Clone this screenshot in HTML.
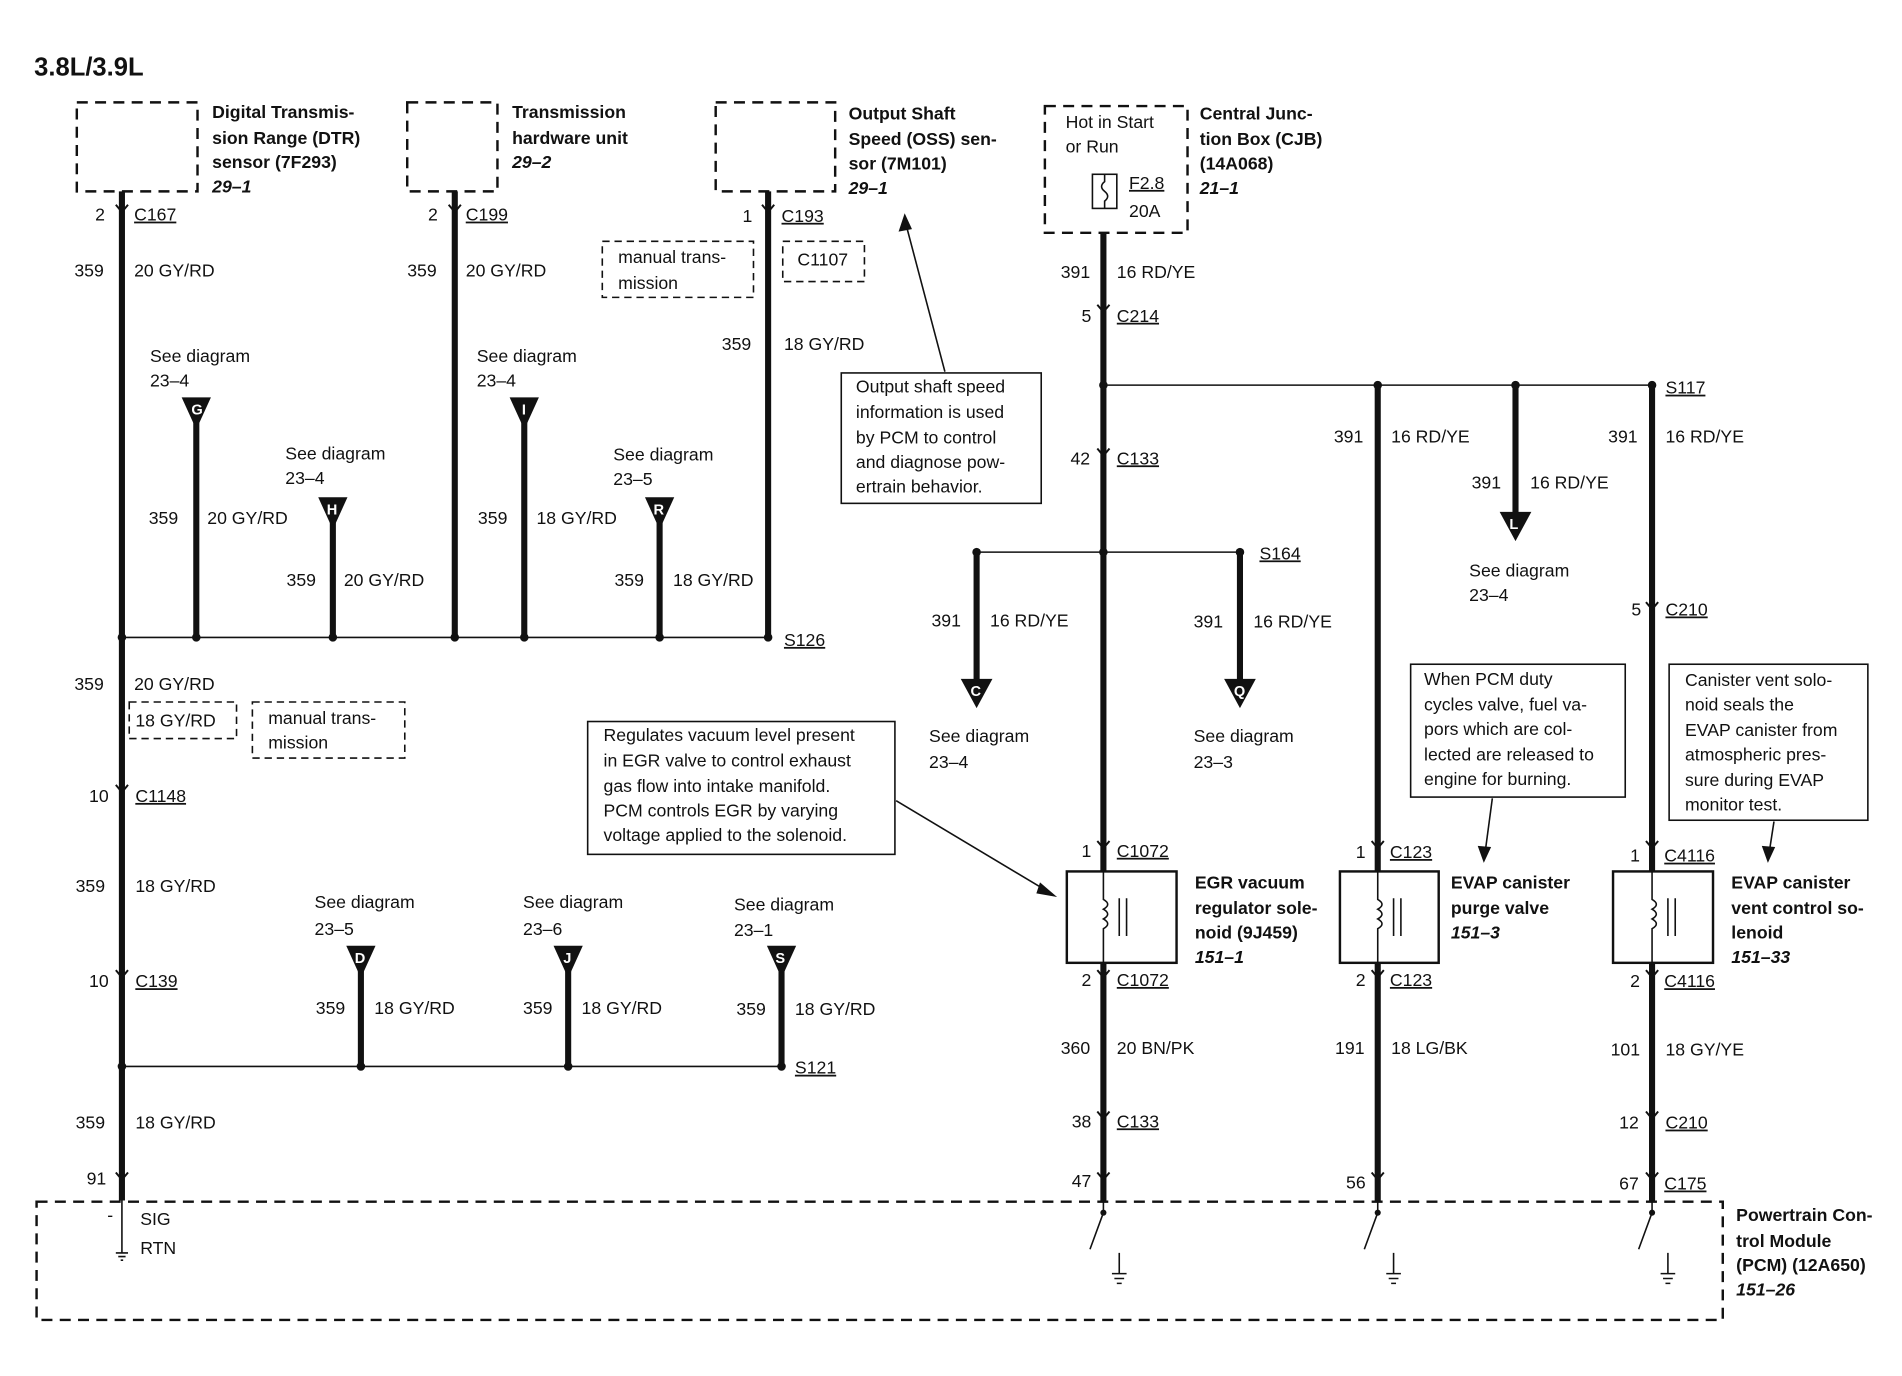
<!DOCTYPE html>
<html><head><meta charset="utf-8"><style>
html,body{margin:0;padding:0;background:#fff;}
svg{display:block;}
text{font-family:"Liberation Sans",sans-serif;font-size:14.5px;fill:#111;}
.b{font-weight:bold;}
.i{font-style:italic;font-weight:bold;}
.w{stroke:#111;stroke-width:5;fill:none;}
.t{stroke:#111;stroke-width:1.3;fill:none;}
.d{stroke:#111;stroke-width:2;fill:none;stroke-dasharray:9,6;}
.dt{stroke:#111;stroke-width:1.3;fill:none;stroke-dasharray:6,4;}
.u{text-decoration:underline;}
</style></head><body>
<svg width="1902" height="1376" viewBox="0 0 1560 1129" preserveAspectRatio="none" xmlns="http://www.w3.org/2000/svg">
<defs>
<g id="tri"><polygon points="-12,0 12,0 2,22 -2,22" fill="#111"/></g>
<g id="big"><polygon points="-13,0 13,0 0,24" fill="#111"/></g>
<g id="sp"><circle r="3.5" fill="#111"/></g>
</defs>
<text x="28" y="62" class="b" style="font-size:21px">3.8L/3.9L</text>

<!-- top dashed boxes -->
<rect x="63" y="84" width="99" height="73" class="d"/>
<rect x="334" y="84" width="74" height="73" class="d"/>
<rect x="587" y="84" width="98" height="73" class="d"/>
<rect x="857" y="87" width="117" height="104" class="d"/>
<text x="174" y="97" class="b">Digital Transmis-</text>
<text x="174" y="118" class="b">sion Range (DTR)</text>
<text x="174" y="138" class="b">sensor (7F293)</text>
<text x="174" y="158" class="i">29–1</text>
<text x="420" y="97" class="b">Transmission</text>
<text x="420" y="118" class="b">hardware unit</text>
<text x="420" y="138" class="i">29–2</text>
<text x="696" y="98" class="b">Output Shaft</text>
<text x="696" y="119" class="b">Speed (OSS) sen-</text>
<text x="696" y="139" class="b">sor (7M101)</text>
<text x="696" y="159" class="i">29–1</text>
<text x="874" y="105">Hot in Start</text>
<text x="874" y="125">or Run</text>
<rect x="896" y="143" width="20" height="28" class="t"/>
<path d="M906,143 v6 q-5,4 0,8 q5,4 0,8 v6" class="t"/>
<text x="926" y="155" class="u">F2.8</text>
<text x="926" y="178">20A</text>
<text x="984" y="98" class="b">Central Junc-</text>
<text x="984" y="119" class="b">tion Box (CJB)</text>
<text x="984" y="139" class="b">(14A068)</text>
<text x="984" y="159" class="i">21–1</text>

<!-- left group -->
<path d="M100,157 V985" class="w"/>
<path d="M373,157 V523" class="w"/>
<path d="M630,157 V523" class="w"/>
<path d="M161,340 V523 M273,425 V523 M430,340 V523 M541,425 V523" class="w"/>
<path d="M100,523 H630" class="t"/>
<use href="#sp" x="100" y="523"/><use href="#sp" x="161" y="523"/><use href="#sp" x="273" y="523"/><use href="#sp" x="373" y="523"/><use href="#sp" x="430" y="523"/><use href="#sp" x="541" y="523"/><use href="#sp" x="630" y="523"/>
<use href="#tri" x="161" y="326"/><text x="157" y="340" style="fill:#fff;font-size:12px" class="b">G</text>
<use href="#tri" x="273" y="408"/><text x="268" y="422" style="fill:#fff;font-size:12px" class="b">H</text>
<use href="#tri" x="430" y="326"/><text x="428" y="340" style="fill:#fff;font-size:12px" class="b">I</text>
<use href="#tri" x="541" y="408"/><text x="536" y="422" style="fill:#fff;font-size:12px" class="b">R</text>

<text x="78" y="181">2</text><text x="110" y="181" class="u">C167</text>
<text x="61" y="227">359</text><text x="110" y="227">20 GY/RD</text>
<text x="351" y="181">2</text><text x="382" y="181" class="u">C199</text>
<text x="334" y="227">359</text><text x="382" y="227">20 GY/RD</text>
<text x="609" y="182">1</text><text x="641" y="182" class="u">C193</text>
<rect x="494" y="198" width="124" height="46" class="dt"/>
<text x="507" y="216">manual trans-</text><text x="507" y="237">mission</text>
<rect x="642" y="198" width="67" height="33" class="dt"/>
<text x="654" y="218">C1107</text>
<text x="592" y="287">359</text><text x="643" y="287">18 GY/RD</text>
<text x="123" y="297">See diagram</text><text x="123" y="317">23–4</text>
<text x="391" y="297">See diagram</text><text x="391" y="317">23–4</text>
<text x="234" y="377">See diagram</text><text x="234" y="397">23–4</text>
<text x="503" y="378">See diagram</text><text x="503" y="398">23–5</text>
<text x="122" y="430">359</text><text x="170" y="430">20 GY/RD</text>
<text x="392" y="430">359</text><text x="440" y="430">18 GY/RD</text>
<text x="235" y="481">359</text><text x="282" y="481">20 GY/RD</text>
<text x="504" y="481">359</text><text x="552" y="481">18 GY/RD</text>
<text x="643" y="530" class="u">S126</text>

<rect x="690" y="306" width="164" height="107" class="t" style="fill:#fff"/>
<text x="702" y="322">Output shaft speed</text>
<text x="702" y="343">information is used</text>
<text x="702" y="364">by PCM to control</text>
<text x="702" y="384">and diagnose pow-</text>
<text x="702" y="404">ertrain behavior.</text>
<path d="M775,305 L742,180" class="t"/><polygon points="742,175 737,190 748,188" fill="#111"/>

<text x="61" y="566">359</text><text x="110" y="566">20 GY/RD</text>
<rect x="106" y="576" width="88" height="30" class="dt"/>
<text x="111" y="596">18 GY/RD</text>
<rect x="207" y="576" width="125" height="46" class="dt"/>
<text x="220" y="594">manual trans-</text><text x="220" y="614">mission</text>
<text x="73" y="658">10</text><text x="111" y="658" class="u">C1148</text>
<text x="62" y="732">359</text><text x="111" y="732">18 GY/RD</text>
<text x="73" y="810">10</text><text x="111" y="810" class="u">C139</text>
<text x="62" y="926">359</text><text x="111" y="926">18 GY/RD</text>
<text x="71" y="972">91</text>

<rect x="482" y="592" width="252" height="109" class="t"/>
<text x="495" y="608">Regulates vacuum level present</text>
<text x="495" y="629">in EGR valve to control exhaust</text>
<text x="495" y="650">gas flow into intake manifold.</text>
<text x="495" y="670">PCM controls EGR by varying</text>
<text x="495" y="690">voltage applied to the solenoid.</text>
<path d="M735,657 L862,733" class="t"/><polygon points="867,736 853,724 850,733" fill="#111"/>

<!-- lower branches -->
<path d="M296,790 V875 M466,790 V875 M641,790 V875" class="w"/>
<path d="M100,875 H641" class="t"/>
<use href="#sp" x="100" y="875"/><use href="#sp" x="296" y="875"/><use href="#sp" x="466" y="875"/><use href="#sp" x="641" y="875"/>
<use href="#tri" x="296" y="776"/><text x="291" y="790" style="fill:#fff;font-size:12px" class="b">D</text>
<use href="#tri" x="466" y="776"/><text x="462" y="790" style="fill:#fff;font-size:12px" class="b">J</text>
<use href="#tri" x="641" y="776"/><text x="636" y="790" style="fill:#fff;font-size:12px" class="b">S</text>
<text x="258" y="745">See diagram</text><text x="258" y="767">23–5</text>
<text x="429" y="745">See diagram</text><text x="429" y="767">23–6</text>
<text x="602" y="747">See diagram</text><text x="602" y="768">23–1</text>
<text x="259" y="832">359</text><text x="307" y="832">18 GY/RD</text>
<text x="429" y="832">359</text><text x="477" y="832">18 GY/RD</text>
<text x="604" y="833">359</text><text x="652" y="833">18 GY/RD</text>
<text x="652" y="881" class="u">S121</text>

<!-- right group -->
<path d="M905,191 V715 M905,790 V985" class="w"/>
<path d="M1130,316 V715 M1130,790 V985" class="w"/>
<path d="M1355,316 V715 M1355,790 V985" class="w"/>
<path d="M1243,316 V425" class="w"/>
<path d="M801,453 V560 M1017,453 V560" class="w"/>
<path d="M905,316 H1355 M801,453 H1017" class="t"/>
<use href="#sp" x="905" y="316"/><use href="#sp" x="1130" y="316"/><use href="#sp" x="1243" y="316"/><use href="#sp" x="1355" y="316"/>
<use href="#sp" x="801" y="453"/><use href="#sp" x="905" y="453"/><use href="#sp" x="1017" y="453"/>
<use href="#big" x="1243" y="420"/><text x="1238" y="434" style="fill:#fff;font-size:12px" class="b">L</text>
<use href="#big" x="801" y="557"/><text x="796" y="571" style="fill:#fff;font-size:12px" class="b">C</text>
<use href="#big" x="1017" y="557"/><text x="1012" y="571" style="fill:#fff;font-size:12px" class="b">Q</text>

<text x="870" y="228">391</text><text x="916" y="228">16 RD/YE</text>
<text x="887" y="264">5</text><text x="916" y="264" class="u">C214</text>
<text x="1366" y="323" class="u">S117</text>
<text x="878" y="381">42</text><text x="916" y="381" class="u">C133</text>
<text x="1094" y="363">391</text><text x="1141" y="363">16 RD/YE</text>
<text x="1319" y="363">391</text><text x="1366" y="363">16 RD/YE</text>
<text x="1207" y="401">391</text><text x="1255" y="401">16 RD/YE</text>
<text x="1033" y="459" class="u">S164</text>
<text x="1205" y="473">See diagram</text><text x="1205" y="493">23–4</text>
<text x="1338" y="505">5</text><text x="1366" y="505" class="u">C210</text>
<text x="764" y="514">391</text><text x="812" y="514">16 RD/YE</text>
<text x="979" y="515">391</text><text x="1028" y="515">16 RD/YE</text>
<text x="762" y="609">See diagram</text><text x="762" y="630">23–4</text>
<text x="979" y="609">See diagram</text><text x="979" y="630">23–3</text>

<rect x="1157" y="545" width="176" height="109" class="t"/>
<text x="1168" y="562">When PCM duty</text>
<text x="1168" y="583">cycles valve, fuel va-</text>
<text x="1168" y="603">pors which are col-</text>
<text x="1168" y="624">lected are released to</text>
<text x="1168" y="644">engine for burning.</text>
<path d="M1224,655 L1218,700" class="t"/><polygon points="1217,708 1212,694 1223,695" fill="#111"/>
<rect x="1369" y="545" width="163" height="128" class="t"/>
<text x="1382" y="563">Canister vent solo-</text>
<text x="1382" y="583">noid seals the</text>
<text x="1382" y="604">EVAP canister from</text>
<text x="1382" y="624">atmospheric pres-</text>
<text x="1382" y="645">sure during EVAP</text>
<text x="1382" y="665">monitor test.</text>
<path d="M1455,674 L1451,700" class="t"/><polygon points="1450,708 1445,694 1456,695" fill="#111"/>

<!-- solenoids -->
<g>
<rect x="875" y="715" width="90" height="75" class="t" style="stroke-width:2"/>
<rect x="1099" y="715" width="81" height="75" class="t" style="stroke-width:2"/>
<rect x="1323" y="715" width="82" height="75" class="t" style="stroke-width:2"/>
<path d="M905,715 V738 q7,4 0,8 q7,4 0,8 q7,4 0,8 V790 M918,737 V768 M924,737 V768" class="t"/>
<path d="M1130,715 V738 q7,4 0,8 q7,4 0,8 q7,4 0,8 V790 M1143,737 V768 M1149,737 V768" class="t"/>
<path d="M1355,715 V738 q7,4 0,8 q7,4 0,8 q7,4 0,8 V790 M1368,737 V768 M1374,737 V768" class="t"/>
</g>
<text x="887" y="703">1</text><text x="916" y="703" class="u">C1072</text>
<text x="1112" y="704">1</text><text x="1140" y="704" class="u">C123</text>
<text x="1337" y="707">1</text><text x="1365" y="707" class="u">C4116</text>
<text x="980" y="729" class="b">EGR vacuum</text>
<text x="980" y="750" class="b">regulator sole-</text>
<text x="980" y="770" class="b">noid (9J459)</text>
<text x="980" y="790" class="i">151–1</text>
<text x="1190" y="729" class="b">EVAP canister</text>
<text x="1190" y="750" class="b">purge valve</text>
<text x="1190" y="770" class="i">151–3</text>
<text x="1420" y="729" class="b">EVAP canister</text>
<text x="1420" y="750" class="b">vent control so-</text>
<text x="1420" y="770" class="b">lenoid</text>
<text x="1420" y="790" class="i">151–33</text>
<text x="887" y="809">2</text><text x="916" y="809" class="u">C1072</text>
<text x="1112" y="809">2</text><text x="1140" y="809" class="u">C123</text>
<text x="1337" y="810">2</text><text x="1365" y="810" class="u">C4116</text>
<text x="870" y="865">360</text><text x="916" y="865">20 BN/PK</text>
<text x="1095" y="865">191</text><text x="1141" y="865">18 LG/BK</text>
<text x="1321" y="866">101</text><text x="1366" y="866">18 GY/YE</text>
<text x="879" y="925">38</text><text x="916" y="925" class="u">C133</text>
<text x="1328" y="926">12</text><text x="1366" y="926" class="u">C210</text>
<text x="879" y="974">47</text><text x="1104" y="975">56</text><text x="1328" y="976">67</text>
<text x="1365" y="976" class="u">C175</text>

<!-- connector chevrons -->
<g class="t" style="stroke-width:1.6">
<path d="M95,168 L100,174 L105,168 M95,644 L100,650 L105,644 M95,796 L100,802 L105,796 M95,962 L100,968 L105,962"/>
<path d="M368,168 L373,174 L378,168 M625,168 L630,174 L635,168"/>
<path d="M900,250 L905,256 L910,250 M900,368 L905,374 L910,368 M900,690 L905,696 L910,690 M900,796 L905,802 L910,796 M900,912 L905,918 L910,912 M900,962 L905,968 L910,962"/>
<path d="M1125,690 L1130,696 L1135,690 M1125,796 L1130,802 L1135,796 M1125,962 L1130,968 L1135,962"/>
<path d="M1350,494 L1355,500 L1360,494 M1350,690 L1355,696 L1360,690 M1350,796 L1355,802 L1360,796 M1350,912 L1355,918 L1360,912 M1350,962 L1355,968 L1360,962"/>
</g>

<!-- PCM -->
<rect x="30" y="986" width="1383" height="97" class="d"/>
<text x="88" y="1002">-</text>
<text x="115" y="1005">SIG</text><text x="115" y="1029">RTN</text>
<path d="M100,985 V1028 M95,1028 H105 M97,1031 H103 M99,1034 H101" class="t"/>
<g class="t">
<path d="M905,985 V995 M905,995 L894,1025 M918,1028 V1045 M912,1045 H924 M914,1049 H922 M916,1053 H920"/>
<path d="M1130,985 V995 M1130,995 L1119,1025 M1143,1028 V1045 M1137,1045 H1149 M1139,1049 H1147 M1141,1053 H1145"/>
<path d="M1355,985 V995 M1355,995 L1344,1025 M1368,1028 V1045 M1362,1045 H1374 M1364,1049 H1372 M1366,1053 H1370"/>
</g>
<circle cx="905" cy="995" r="2.5" fill="#111"/><circle cx="1130" cy="995" r="2.5" fill="#111"/><circle cx="1355" cy="995" r="2.5" fill="#111"/>
<text x="1424" y="1002" class="b">Powertrain Con-</text>
<text x="1424" y="1023" class="b">trol Module</text>
<text x="1424" y="1043" class="b">(PCM) (12A650)</text>
<text x="1424" y="1063" class="i">151–26</text>
</svg>
</body></html>
